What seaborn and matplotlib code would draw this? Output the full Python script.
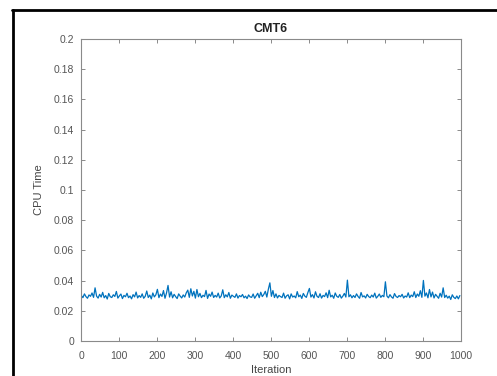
import matplotlib

matplotlib.use("Agg")
import matplotlib.pyplot as plt
import numpy as np
import pandas as pd
import seaborn as sns
from matplotlib.lines import Line2D

cpu_time = [
    0.0301, 0.0287, 0.0312, 0.0294, 0.0283, 0.0305, 0.0296, 0.0318, 0.0289, 0.0352,
    0.0297, 0.0284, 0.0309, 0.0291, 0.0322, 0.0286, 0.0301, 0.0278, 0.0315, 0.0293,
    0.0288, 0.0306, 0.0295, 0.0328, 0.0284, 0.0299, 0.0311, 0.0281, 0.0302, 0.0293,
    0.0316, 0.0287, 0.0298, 0.0279, 0.0307, 0.0292, 0.0324, 0.0285, 0.0301, 0.0289,
    0.0312, 0.0283, 0.0296, 0.0331, 0.0288, 0.0304, 0.0279, 0.0318, 0.0292, 0.0306,
    0.0342, 0.0287, 0.0311, 0.0295, 0.0334, 0.0283, 0.0318, 0.0368, 0.0291, 0.0326,
    0.0286, 0.0309, 0.0294, 0.0281, 0.0312, 0.0297, 0.0285, 0.0305, 0.0291, 0.0319,
    0.0337, 0.0289, 0.0346, 0.0298, 0.0329, 0.0284, 0.0341, 0.0293, 0.0315, 0.0287,
    0.0303, 0.0294, 0.0335, 0.0282, 0.0311, 0.0296, 0.0324, 0.0288, 0.0302, 0.0291,
    0.0317, 0.0285, 0.0298, 0.0339, 0.0287, 0.0306, 0.0292, 0.0321, 0.0283, 0.0304,
    0.0296, 0.0289, 0.0312, 0.0284, 0.0301, 0.0293, 0.0308, 0.0286, 0.0297, 0.0281,
    0.0305, 0.0292, 0.0289, 0.0311, 0.0283, 0.0299, 0.0316, 0.0287, 0.0323, 0.0294,
    0.0308, 0.0329, 0.0291, 0.0343, 0.0385, 0.0296, 0.0334, 0.0288, 0.0312, 0.0285,
    0.0302, 0.0294, 0.0288, 0.0317, 0.0283, 0.0299, 0.0306, 0.0279, 0.0312, 0.0291,
    0.0298, 0.0286, 0.0327, 0.0293, 0.0304, 0.0282, 0.0315, 0.0297, 0.0289, 0.0321,
    0.0348, 0.0291, 0.0307, 0.0285, 0.0326, 0.0296, 0.0288, 0.0313, 0.0284, 0.0302,
    0.0294, 0.0319, 0.0287, 0.0336, 0.0292, 0.0303, 0.0283, 0.0318, 0.0296, 0.0289,
    0.0308, 0.0284, 0.0297, 0.0315, 0.0291, 0.0403, 0.0293, 0.0306, 0.0286, 0.0301,
    0.0288, 0.0312, 0.0295, 0.0283, 0.0321, 0.0292, 0.0299, 0.0285, 0.0309, 0.0294,
    0.0287, 0.0304, 0.0291, 0.0317, 0.0284, 0.0296, 0.0311, 0.0289, 0.0302, 0.0293,
    0.0392, 0.0298, 0.0286, 0.0307, 0.0292, 0.0283, 0.0314, 0.0295, 0.0288, 0.0301,
    0.0293, 0.0309, 0.0285, 0.0298, 0.0291, 0.0319, 0.0287, 0.0304, 0.0294, 0.0326,
    0.0288, 0.0311, 0.0296, 0.0333, 0.0289, 0.0401, 0.0297, 0.0318, 0.0286, 0.0341,
    0.0292, 0.0324, 0.0285, 0.0309, 0.0296, 0.0283, 0.0316, 0.0291, 0.0352, 0.0288,
    0.0303, 0.0284, 0.0297, 0.0275, 0.0306, 0.0289, 0.0281, 0.0298, 0.0279, 0.0301,
]
iterations = np.arange(1, 4 * len(cpu_time) + 1, 4)

x_ticks = [0, 100, 200, 300, 400, 500, 600, 700, 800, 900, 1000]
y_ticks = [0, 0.02, 0.04, 0.06, 0.08, 0.1, 0.12, 0.14, 0.16, 0.18, 0.2]
y_tick_labels = ["0", "0.02", "0.04", "0.06", "0.08", "0.1", "0.12", "0.14", "0.16", "0.18", "0.2"]

df = pd.DataFrame({"Iteration": iterations, "CPU Time": cpu_time})

sns.set_style("ticks")
plt.rcParams["font.family"] = ["Liberation Sans", "DejaVu Sans"]

fig = plt.figure(figsize=(4.97, 3.76), dpi=100)
ax = fig.add_axes([0.163, 0.0931, 0.7646, 0.8032])

sns.lineplot(data=df, x="Iteration", y="CPU Time", color="#0072BD", linewidth=0.9, ax=ax)

ax.set_xlim(0, 1000)
ax.set_ylim(0, 0.2)
ax.set_xticks(x_ticks)
ax.set_yticks(y_ticks)
ax.set_yticklabels(y_tick_labels)

grey = "#8a8a8a"
for side in ["top", "right", "bottom", "left"]:
    ax.spines[side].set_visible(True)
    ax.spines[side].set_color(grey)
    ax.spines[side].set_linewidth(0.8)
ax.tick_params(direction="in", length=3, width=0.7, color=grey,
               top=True, right=True, labelsize=7.5, labelcolor="#555555")
ax.tick_params(axis="x", pad=7)
ax.tick_params(axis="y", pad=5)

ax.set_title("CMT6", fontsize=9, fontweight="bold", color="#222222", pad=5)
ax.set_xlabel("Iteration", fontsize=8, color="#444444", labelpad=3)
ax.set_ylabel("CPU Time", fontsize=8, color="#444444", labelpad=7)

# black frame around the figure (only left and top edges fall inside the image)
fig.lines.append(Line2D([13 / 497, 13 / 497], [0, 1 - 10 / 376],
                        transform=fig.transFigure, color="black", linewidth=2))
fig.lines.append(Line2D([13 / 497 - 0.002, 1], [1 - 10 / 376, 1 - 10 / 376],
                        transform=fig.transFigure, color="black", linewidth=2))

fig.savefig("out.png", dpi=100)
